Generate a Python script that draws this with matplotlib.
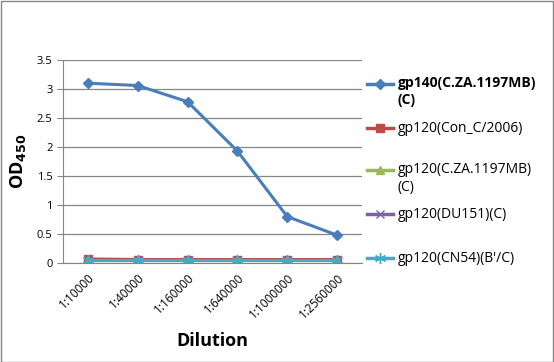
import matplotlib
matplotlib.use('Agg')
from matplotlib import pyplot as plt
from matplotlib.lines import Line2D

dilutions = ['1:10000', '1:40000', '1:160000', '1:640000', '1:1000000', '1:2560000']

gp140_cza = [3.10, 3.06, 2.78, 1.93, 0.80, 0.48]
gp120_conc = [0.07, 0.06, 0.06, 0.06, 0.06, 0.06]
gp120_cza = [0.05, 0.05, 0.05, 0.05, 0.05, 0.05]
gp120_du151 = [0.05, 0.05, 0.05, 0.05, 0.05, 0.05]
gp120_cn54 = [0.05, 0.05, 0.05, 0.05, 0.05, 0.05]

series = [
    ('gp140(C.ZA.1197MB)\n(C)', gp140_cza, '#4a7ebb', 'D', 5),
    ('gp120(Con_C/2006)', gp120_conc, '#be4b48', 's', 6),
    ('gp120(C.ZA.1197MB)\n(C)', gp120_cza, '#98b954', '^', 6),
    ('gp120(DU151)(C)', gp120_du151, '#7d60a0', 'x', 6),
    ('gp120(CN54)(B\'/C)', gp120_cn54, '#46aac5', (6, 2, 0), 8),
]

# legend row positions (pixels from top)
legend_rows = [84, 128, 170, 214, 258]

plt.rcParams['font.family'] = ['Open Sans', 'DejaVu Sans']

W, H = 554, 362
fig = plt.figure(figsize=(W / 100, H / 100), dpi=100)
ax = fig.add_axes([63 / W, 1 - 263 / H, 299 / W, 203 / H])

xs = range(len(dilutions))
for label, vals, color, marker, ms in series:
    ax.plot(xs, vals, color=color, marker=marker, markersize=ms, linewidth=2.2,
            markeredgecolor=color)

ax.set_xlim(-0.5, len(dilutions) - 0.5)
ax.set_ylim(0, 3.5)
ax.set_yticks([0, 0.5, 1, 1.5, 2, 2.5, 3, 3.5])
ax.set_yticklabels(['0', '0.5', '1', '1.5', '2', '2.5', '3', '3.5'])
ax.set_xticks(list(xs))
ax.set_xticklabels(dilutions, rotation=45, ha='right', rotation_mode='anchor')
ax.tick_params(axis='y', labelsize=8, length=4, color='#868686')
ax.tick_params(axis='x', labelsize=8.5, length=0, pad=6)
ax.grid(axis='y', color='#868686', linewidth=0.9)
ax.set_axisbelow(True)
for side in ['top', 'right']:
    ax.spines[side].set_visible(False)
for side in ['left', 'bottom']:
    ax.spines[side].set_color('#868686')

ax.set_xlabel('Dilution', fontsize=13, fontweight='bold', labelpad=8)
ax.set_ylabel('OD$_\\mathbf{450}$', fontsize=13, fontweight='bold', labelpad=6)

# legend drawn on the right, Excel-style
for (label, vals, color, marker, ms), yp in zip(series, legend_rows):
    y = 1 - yp / H
    fig.add_artist(Line2D([367 / W, 393 / W], [y, y], transform=fig.transFigure,
                          color=color, linewidth=2.5))
    fig.add_artist(Line2D([380 / W], [y], transform=fig.transFigure, color=color,
                          marker=marker, markersize=ms, markeredgecolor=color))
    weight = 'bold' if label.startswith('gp140') else 'normal'
    if '\n' in label:
        fig.text(398 / W, y + 8 / H, label, va='top', ha='left', fontsize=10,
                 fontweight=weight, linespacing=1.25)
    else:
        fig.text(398 / W, y, label, va='center', ha='left', fontsize=10,
                 fontweight=weight)

fig.patches.append(plt.Rectangle((0.001, 0.001), 0.997, 0.996, transform=fig.transFigure,
                                 fill=False, edgecolor='#868686', linewidth=1))

fig.savefig('out.png', dpi=100)
